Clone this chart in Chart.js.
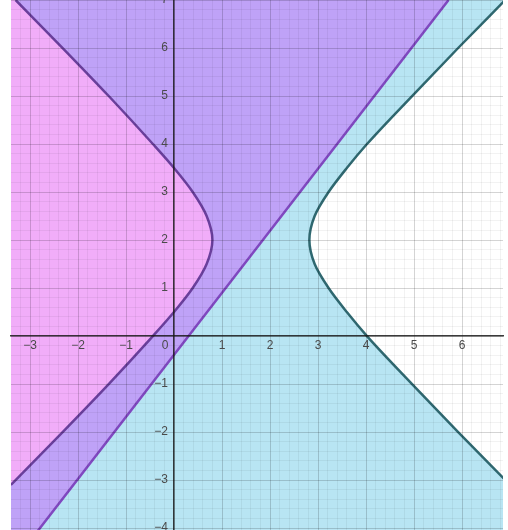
<!DOCTYPE html>
<html lang="en">
<head>
<meta charset="UTF-8">
<title>Hyperbola and line regions</title>
<script src="https://cdn.jsdelivr.net/npm/chart.js"></script>
<style>
  html, body { margin: 0; padding: 0; background: #fff; }
  #wrap { width: 508px; height: 530px; }
</style>
</head>
<body>
<div id="wrap"><canvas id="plot"></canvas></div>
<script>
// points; y is the index axis for every curve
const branchY      = [-3.1, -3, -2, -1, 0, 0.5, 1, 1.5, 2, 2.5, 3, 3.5, 4, 5, 6, 7];
const leftBranchX  = [-3.40, -3.30, -2.32, -1.36, -0.44, 0.00, 0.39, 0.68, 0.80, 0.68, 0.39, 0.00, -0.44, -1.36, -2.32, -3.30];
const rightBranchX = [7.00, 6.90, 5.92, 4.96, 4.02, 3.60, 3.22, 2.93, 2.82, 2.93, 3.22, 3.60, 4.02, 4.96, 5.92, 6.90];
const lineY = [-4.1, 7.0];
const lineX = [-2.87, 5.72];
// visible window of the graph
const xRange = [-3.396, 6.854];
const yRange = [-4.04, 7.0];

const font = { family: '"Liberation Sans", Arial, sans-serif', size: 12 };
const pts = (xs, ys) => ys.map((y, i) => ({ x: xs[i], y: y }));
const isMajor = v => Math.abs(v - Math.round(v)) < 1e-6;
const fmt = v => { const n = Math.round(v); return n < 0 ? '\u2212' + (-n) : String(n); };

function area(xs, ys, fillTo, color, order) {
  return {
    data: pts(xs, ys), indexAxis: 'y', order: order,
    fill: { value: fillTo }, backgroundColor: color,
    borderColor: 'transparent', borderWidth: 0, pointRadius: 0,
    tension: 0.4, cubicInterpolationMode: 'monotone'
  };
}
function curve(xs, ys, color, order) {
  return {
    data: pts(xs, ys), indexAxis: 'y', order: order, fill: false,
    borderColor: color, borderWidth: 2.5, pointRadius: 0,
    tension: 0.4, cubicInterpolationMode: 'monotone'
  };
}

const noPad = s => { s.paddingLeft = 0; s.paddingRight = 0; s.paddingTop = 0; s.paddingBottom = 0; };
const gridColor = ctx => (ctx.tick && isMajor(ctx.tick.value)) ? 'rgba(0,0,0,0.17)' : 'rgba(0,0,0,0.05)';

new Chart(document.getElementById('plot'), {
  type: 'line',
  data: {
    datasets: [
      area(lineX, lineY, xRange[0], '#bfa2f7', 10),
      area(lineX, lineY, xRange[1], '#b8e5f3', 9),
      area(leftBranchX, branchY, xRange[0], '#f1adf9', 8),
      area(rightBranchX, branchY, xRange[1], '#ffffff', 7),
      curve(lineX, lineY, '#8048c0', 3),
      curve(leftBranchX, branchY, '#6a3f9c', 2),
      curve(rightBranchX, branchY, '#2f6870', 1)
    ]
  },
  options: {
    responsive: true,
    maintainAspectRatio: false,
    animation: false,
    events: [],
    layout: { padding: { left: 11, right: 5, top: 0, bottom: 0 } },
    plugins: { legend: { display: false }, tooltip: { enabled: false } },
    scales: {
      x: {
        type: 'linear', min: xRange[0], max: xRange[1], position: { y: 0 },
        afterFit: noPad,
        grid: { z: 1, drawTicks: false, color: gridColor, lineWidth: 1 },
        border: { display: true, color: 'rgba(25,25,25,0.85)', width: 1.5, z: 2 },
        ticks: {
          z: 3, stepSize: 0.2, includeBounds: false, autoSkip: false, maxRotation: 0,
          padding: 2, color: '#4a4a4a', font: font,
          callback: v => !isMajor(v) ? '' : (Math.round(v) === 0 ? '0\u2002\u2002\u2002' : fmt(v))
        }
      },
      y: {
        type: 'linear', min: yRange[0], max: yRange[1], position: { x: 0 },
        afterFit: noPad,
        grid: { z: 1, drawTicks: false, color: gridColor, lineWidth: 1 },
        border: { display: true, color: 'rgba(25,25,25,0.85)', width: 1.5, z: 2 },
        ticks: {
          z: 3, stepSize: 0.2, includeBounds: false, autoSkip: false,
          padding: 4, color: '#4a4a4a', font: font,
          callback: v => (!isMajor(v) || Math.round(v) === 0) ? '' : fmt(v) + '\u2002'
        }
      }
    }
  }
});
</script>
</body>
</html>
